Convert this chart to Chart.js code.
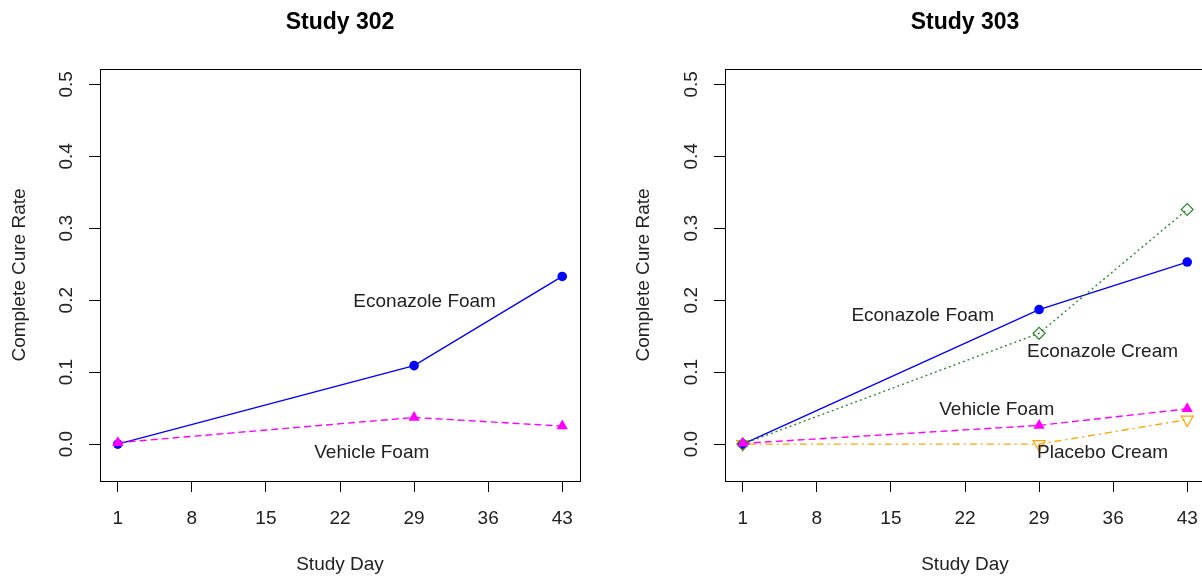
<!DOCTYPE html>
<html>
<head>
<meta charset="utf-8">
<script src="https://cdn.jsdelivr.net/npm/chart.js@4.4.1/dist/chart.umd.min.js"></script>
<style>
  html, body { margin:0; padding:0; background:#fff; width:1202px; height:577px; overflow:hidden; }
  .panel { position:absolute; top:0; }
</style>
</head>
<body>
<div class="panel" style="left:0;"><canvas id="c302" width="600" height="577"></canvas></div>
<div class="panel" style="left:600px;"><canvas id="c303" width="620" height="577"></canvas></div>
<script>
// ---- data ----
const studyDays = [1, 29, 43];
const xTicks = [1, 8, 15, 22, 29, 36, 43];
const yTicks = [0, 0.1, 0.2, 0.3, 0.4, 0.5];
const yTickLabels = ['0.0', '0.1', '0.2', '0.3', '0.4', '0.5'];

const s302EconazoleFoam = [0, 0.109, 0.233];
const s302VehicleFoam   = [0.002, 0.037, 0.025];

const s303EconazoleFoam  = [0, 0.187, 0.253];
const s303EconazoleCream = [0, 0.154, 0.326];
const s303VehicleFoam    = [0.001, 0.026, 0.049];
const s303PlaceboCream   = [0, 0, 0.034];

const labels302 = ['Econazole Foam', 'Vehicle Foam'];
const labelX302 = [30, 25];
const labelY302 = [0.198, -0.012];

const labels303 = ['Econazole Foam', 'Econazole Cream', 'Vehicle Foam', 'Placebo Cream'];
const labelX303 = [18, 35, 25, 35];
const labelY303 = [0.178, 0.128, 0.048, -0.012];

// ---- styling ----
const FONT = "'Liberation Sans', Arial, Helvetica, sans-serif";
const TXT = '#222';
Chart.defaults.font.family = FONT;
Chart.defaults.font.size = 19;
Chart.defaults.color = TXT;

function pts(vals) { return studyDays.map((d, i) => ({ x: d, y: vals[i] })); }

const decor = {
  id: 'decor',
  afterDatasetsDraw(chart, args, opts) {
    const { ctx, chartArea: a, scales } = chart;
    ctx.save();
    ctx.fillStyle = TXT;
    ctx.font = '19px ' + FONT;
    ctx.textAlign = 'center';
    ctx.textBaseline = 'middle';
    opts.texts.forEach((t, i) => {
      ctx.fillText(t, scales.x.getPixelForValue(opts.xs[i]), scales.y.getPixelForValue(opts.ys[i]));
    });
    ctx.strokeStyle = '#000';
    ctx.lineWidth = 1;
    ctx.strokeRect(Math.round(a.left) + 0.5, Math.round(a.top) + 0.5,
                   Math.round(a.right - a.left), Math.round(a.bottom - a.top));
    ctx.font = 'bold 23px ' + FONT;
    ctx.fillStyle = '#000';
    ctx.fillText(opts.title, (a.left + a.right) / 2, 23);
    ctx.restore();
  }
};

function makeChart(id, datasets, title, texts, xs, ys, padLeft, padRight, yWidth) {
  return new Chart(document.getElementById(id), {
    type: 'line',
    data: { datasets },
    plugins: [decor],
    options: {
      responsive: false,
      animation: false,
      layout: { padding: { top: 69, left: padLeft, right: padRight, bottom: 0 } },
      plugins: {
        legend: { display: false },
        tooltip: { enabled: false },
        title: { display: false },
        decor: { title, texts, xs, ys }
      },
      scales: {
        x: {
          type: 'linear', min: -0.68, max: 44.68,
          afterBuildTicks: s => { s.ticks = xTicks.map(v => ({ value: v })); },
          afterFit: s => { s.height = 96; },
          ticks: { padding: 15, minRotation: 0, maxRotation: 0, autoSkip: false, color: TXT,
                   callback: (v, i) => String(xTicks[i]) },
          grid: { drawOnChartArea: false, drawTicks: true, tickLength: 11, color: '#000', tickColor: '#000', tickWidth: 1 },
          border: { display: true, color: '#000', width: 1 },
          title: { display: true, text: 'Study Day', color: TXT, font: { size: 19 }, padding: { top: 0, bottom: 1 } }
        },
        y: {
          type: 'linear', min: -0.0513, max: 0.5213,
          afterBuildTicks: s => { s.ticks = yTicks.map(v => ({ value: v })); },
          afterFit: s => { s.width = yWidth; },
          ticks: { padding: 9, minRotation: 90, maxRotation: 90, crossAlign: 'center', color: TXT,
                   callback: (v, i) => yTickLabels[i] },
          grid: { drawOnChartArea: false, drawTicks: true, tickLength: 11, color: '#000', tickColor: '#000', tickWidth: 1 },
          border: { display: true, color: '#000', width: 1 },
          title: { display: true, text: 'Complete Cure Rate', color: TXT, font: { size: 19 }, padding: { top: 8, bottom: 0 } }
        }
      }
    }
  });
}

const styleEF = { borderColor: '#0000ff', backgroundColor: '#0000ff', borderWidth: 1.4,
  pointStyle: 'circle', pointRadius: 4.8, pointBorderWidth: 0, pointBackgroundColor: '#0000ff' };
const styleVF = { borderColor: '#ff00ff', backgroundColor: '#ff00ff', borderWidth: 1.4, borderDash: [7, 4],
  pointStyle: 'triangle', pointRadius: 6.5, pointBorderWidth: 0, pointBackgroundColor: '#ff00ff' };
const styleEC = { borderColor: '#2e8b2e', backgroundColor: 'rgba(0,0,0,0)', borderWidth: 1.4, borderDash: [2, 3],
  pointStyle: 'rectRot', pointRadius: 6, pointBorderWidth: 1.2, pointBorderColor: '#2e8b2e', pointBackgroundColor: 'rgba(0,0,0,0)' };
const stylePC = { borderColor: '#ffa500', backgroundColor: 'rgba(0,0,0,0)', borderWidth: 1.4, borderDash: [2, 4, 7, 4],
  pointStyle: 'triangle', pointRotation: 180, pointRadius: 7, pointBorderWidth: 1.2, pointBorderColor: '#ffa500', pointBackgroundColor: 'rgba(0,0,0,0)' };

// dataset 0 is drawn on top in Chart.js
makeChart('c302', [
  Object.assign({ label: 'Vehicle Foam', data: pts(s302VehicleFoam) }, styleVF),
  Object.assign({ label: 'Econazole Foam', data: pts(s302EconazoleFoam) }, styleEF)
], 'Study 302', labels302, labelX302, labelY302, 0, 20, 100);

makeChart('c303', [
  Object.assign({ label: 'Vehicle Foam', data: pts(s303VehicleFoam) }, styleVF),
  Object.assign({ label: 'Econazole Cream', data: pts(s303EconazoleCream) }, styleEC),
  Object.assign({ label: 'Econazole Foam', data: pts(s303EconazoleFoam) }, styleEF),
  Object.assign({ label: 'Placebo Cream', data: pts(s303PlaceboCream) }, stylePC)
], 'Study 303', labels303, labelX303, labelY303, 24, 15, 101);
</script>
</body>
</html>
